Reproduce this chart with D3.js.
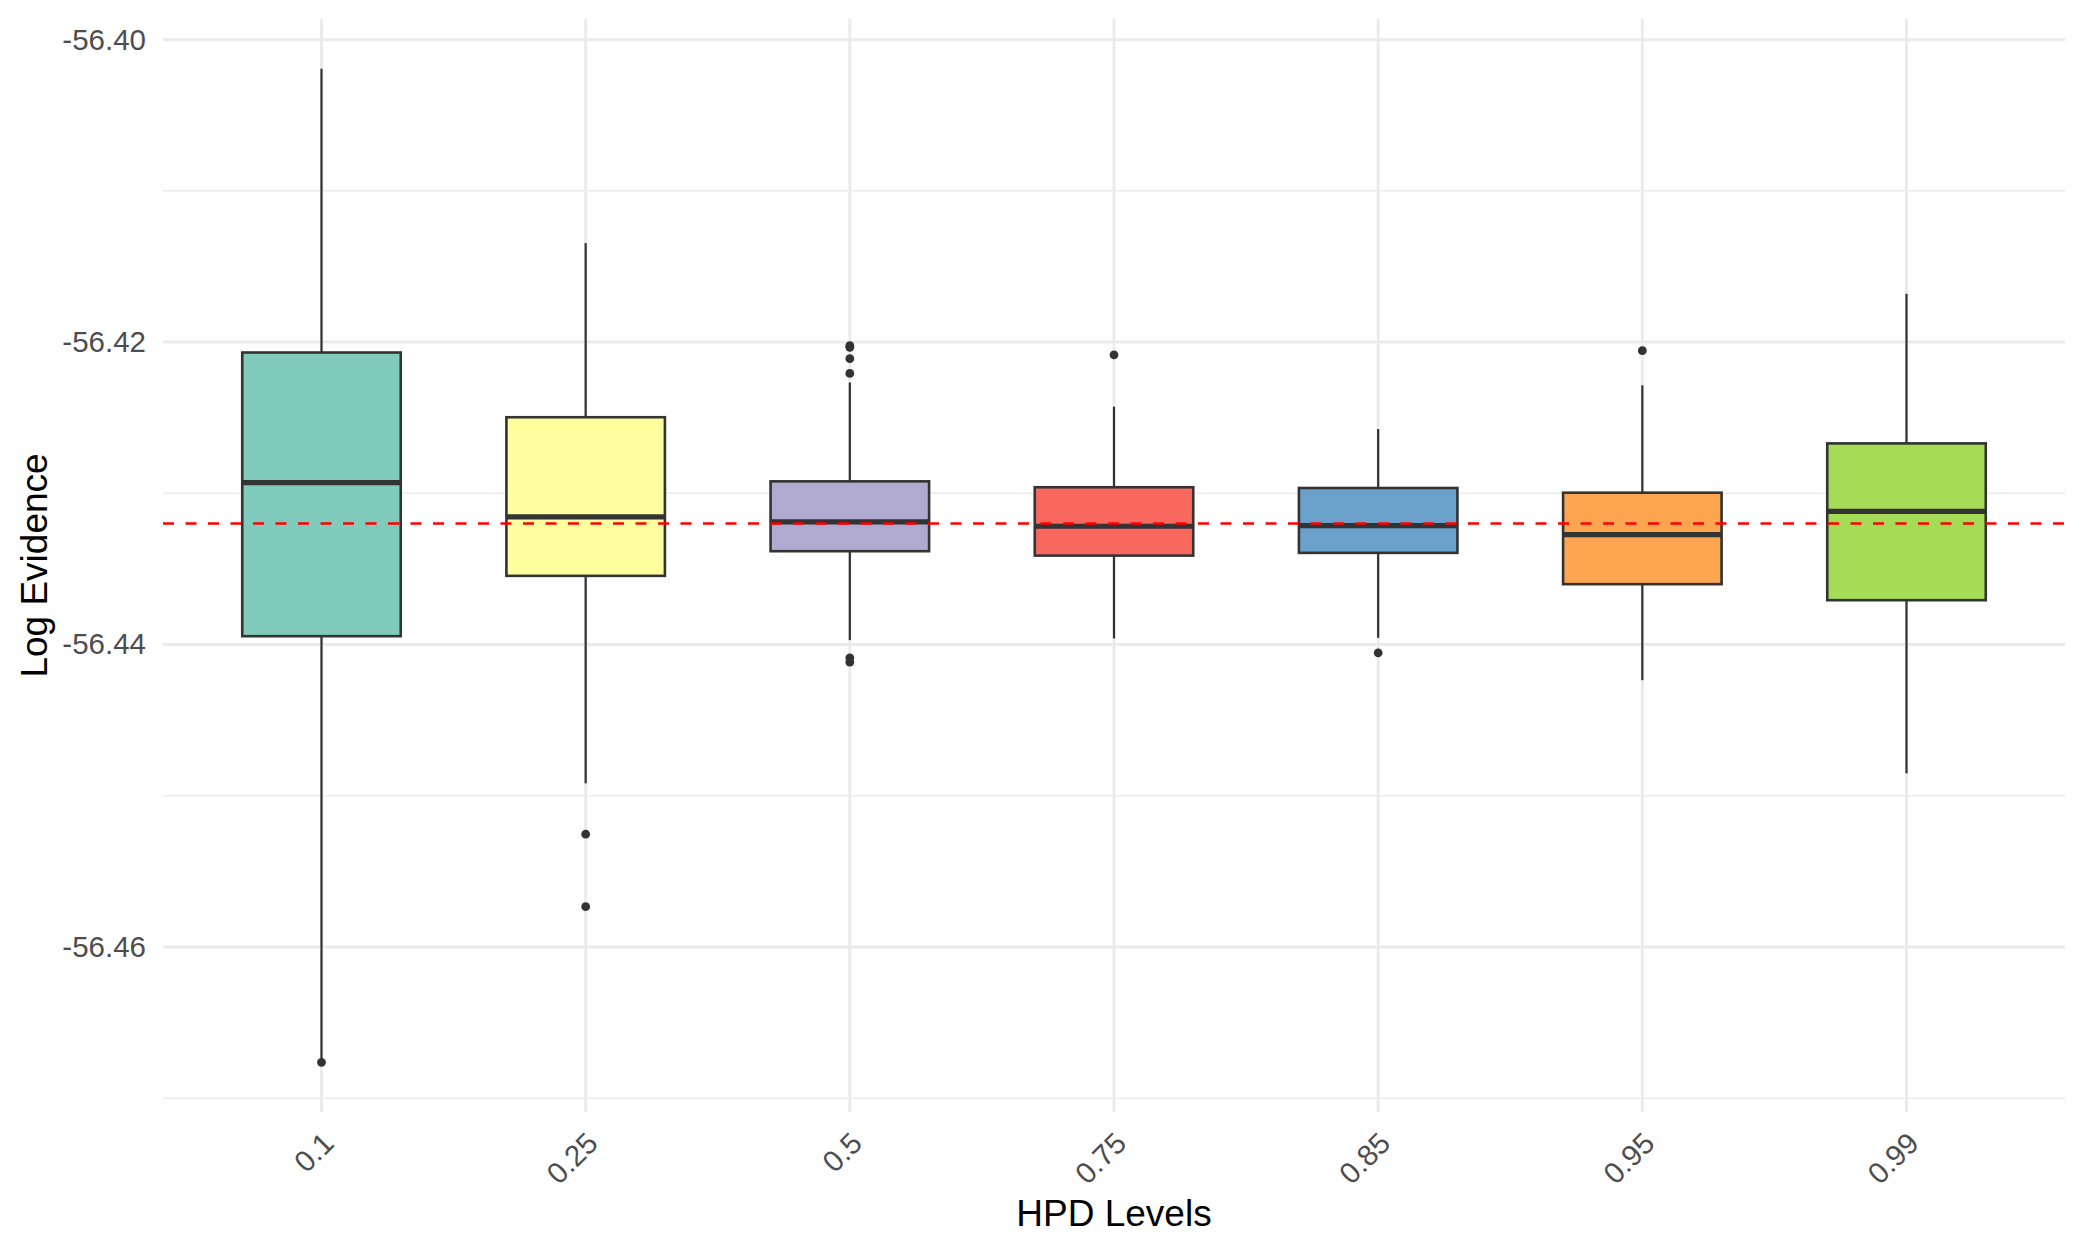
<!DOCTYPE html>
<html>
<head>
<meta charset="utf-8">
<script src="https://cdn.jsdelivr.net/npm/d3@7"></script>
<style>
  html, body { margin: 0; padding: 0; background: #ffffff; }
  svg { display: block; }
  text { font-family: "Liberation Sans", Arial, Helvetica, sans-serif; }
</style>
</head>
<body>
<svg id="chart" width="2084" height="1252"></svg>
<script>
// ---- Data ----
const categories = ["0.1", "0.25", "0.5", "0.75", "0.85", "0.95", "0.99"];
const whiskerLow  = [-56.46740, -56.44918, -56.43971, -56.43960, -56.43956, -56.44236, -56.44852];
const q1Values    = [-56.43945, -56.43546, -56.43383, -56.43412, -56.43394, -56.43601, -56.43707];
const medians     = [-56.42929, -56.43156, -56.43189, -56.43218, -56.43214, -56.43273, -56.43119];
const q3Values    = [-56.42069, -56.42497, -56.42921, -56.42960, -56.42965, -56.42996, -56.42670];
const whiskerHigh = [-56.40192, -56.41345, -56.42267, -56.42427, -56.42575, -56.42286, -56.41681];
const outliers    = [
  [-56.46763],
  [-56.45254, -56.45734],
  [-56.42024, -56.42035, -56.42110, -56.42207, -56.44088, -56.44117],
  [-56.42084],
  [-56.44055],
  [-56.42057],
  []
];
const fillColors  = ["#80CBBB", "#FFFFA0", "#B0AAD0", "#F8685F", "#6BA2CB", "#FBA550", "#A5DB56"];
const referenceValue = -56.432;
const majorTicks = [-56.46, -56.44, -56.42, -56.40];
const minorTicks = [-56.47, -56.45, -56.43, -56.41];
const xTitle = "HPD Levels";
const yTitle = "Log Evidence";

// ---- Layout ----
const W = 2084, H = 1252;
const panel = { left: 163, right: 2065, top: 19, bottom: 1112 };

const svg = d3.select("#chart");

const x = d3.scalePoint()
  .domain(categories)
  .range([panel.left, panel.right])
  .padding(0.6);

const allVals = [].concat(whiskerLow, whiskerHigh, ...outliers);
const vMin = d3.min(allVals), vMax = d3.max(allVals);
const ext = (vMax - vMin) * 0.05;
const y = d3.scaleLinear()
  .domain([vMin - ext, vMax + ext])
  .range([panel.bottom, panel.top]);

// ---- Grid ----
const grid = svg.append("g");
grid.selectAll("line.minor").data(minorTicks).join("line")
  .attr("x1", panel.left).attr("x2", panel.right)
  .attr("y1", d => y(d)).attr("y2", d => y(d))
  .attr("stroke", "#EBEBEB").attr("stroke-width", 1.5);
grid.selectAll("line.major").data(majorTicks).join("line")
  .attr("x1", panel.left).attr("x2", panel.right)
  .attr("y1", d => y(d)).attr("y2", d => y(d))
  .attr("stroke", "#EBEBEB").attr("stroke-width", 3);
grid.selectAll("line.vx").data(categories).join("line")
  .attr("x1", d => x(d)).attr("x2", d => x(d))
  .attr("y1", panel.top).attr("y2", panel.bottom)
  .attr("stroke", "#EBEBEB").attr("stroke-width", 3);

// ---- Axes (text only, ggplot minimal style) ----
const yAxis = d3.axisLeft(y).tickValues(majorTicks).tickSize(0).tickPadding(17)
  .tickFormat(d => d.toFixed(2));
const gy = svg.append("g").attr("transform", `translate(${panel.left},0)`).call(yAxis);
gy.select(".domain").remove();
gy.selectAll("text")
  .attr("font-size", 29.5).attr("fill", "#4D4D4D")
  .attr("font-family", "Liberation Sans, Arial, sans-serif");

const gx = svg.append("g");
gx.selectAll("text").data(categories).join("text")
  .attr("transform", d => `translate(${x(d) - 1},${panel.bottom + 18}) rotate(-45)`)
  .attr("text-anchor", "end")
  .attr("dy", "0.72em")
  .attr("font-size", 29.5)
  .attr("fill", "#4D4D4D")
  .text(d => d);

// ---- Boxes ----
const boxW = x.step() * 0.6;
const boxes = svg.append("g");
categories.forEach((c, i) => {
  const cx = x(c);
  const g = boxes.append("g");
  // whiskers
  g.append("line")
    .attr("x1", cx).attr("x2", cx)
    .attr("y1", y(whiskerHigh[i])).attr("y2", y(q3Values[i]))
    .attr("stroke", "#333333").attr("stroke-width", 2.2);
  g.append("line")
    .attr("x1", cx).attr("x2", cx)
    .attr("y1", y(q1Values[i])).attr("y2", y(whiskerLow[i]))
    .attr("stroke", "#333333").attr("stroke-width", 2.2);
  // box
  g.append("rect")
    .attr("x", cx - boxW / 2).attr("width", boxW)
    .attr("y", y(q3Values[i])).attr("height", y(q1Values[i]) - y(q3Values[i]))
    .attr("fill", fillColors[i])
    .attr("stroke", "#333333").attr("stroke-width", 2.6);
  // median
  g.append("line")
    .attr("x1", cx - boxW / 2).attr("x2", cx + boxW / 2)
    .attr("y1", y(medians[i])).attr("y2", y(medians[i]))
    .attr("stroke", "#333333").attr("stroke-width", 5.2);
  // outliers
  g.selectAll("circle").data(outliers[i]).join("circle")
    .attr("cx", cx).attr("cy", d => y(d)).attr("r", 4.4)
    .attr("fill", "#333333");
});

// ---- Reference line ----
svg.append("line")
  .attr("x1", panel.left).attr("x2", panel.right)
  .attr("y1", y(referenceValue)).attr("y2", y(referenceValue))
  .attr("stroke", "#FF0000").attr("stroke-width", 2.6)
  .attr("stroke-dasharray", "11,11.5");

// ---- Titles ----
svg.append("text")
  .attr("x", (panel.left + panel.right) / 2).attr("y", 1226)
  .attr("text-anchor", "middle")
  .attr("font-size", 37).attr("fill", "#000000")
  .text(xTitle);
svg.append("text")
  .attr("transform", `translate(47,${(panel.top + panel.bottom) / 2}) rotate(-90)`)
  .attr("text-anchor", "middle")
  .attr("font-size", 37).attr("fill", "#000000")
  .text(yTitle);
</script>
</body>
</html>
